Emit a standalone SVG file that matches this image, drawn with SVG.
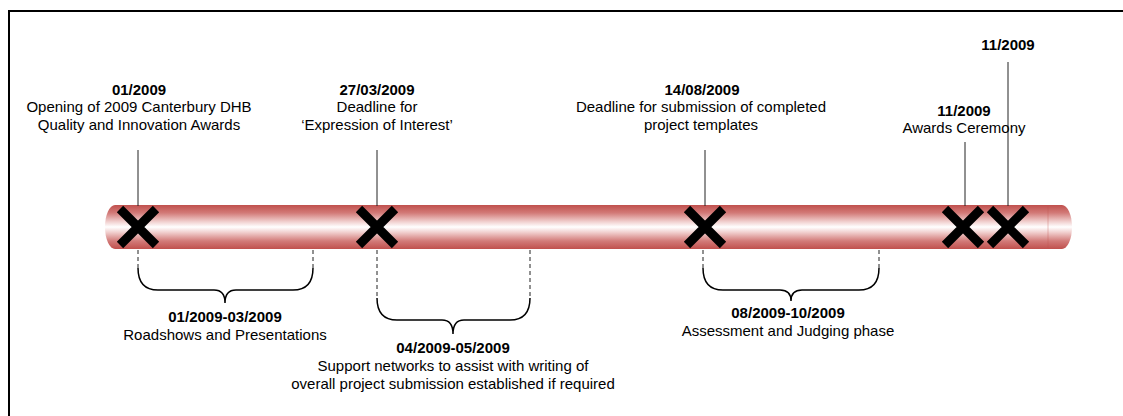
<svg xmlns="http://www.w3.org/2000/svg" width="1123" height="416" viewBox="0 0 1123 416">
  <defs>
    <linearGradient id="tubeFill" x1="0" y1="0" x2="0" y2="1">
      <stop offset="0" stop-color="#c0504d"/>
      <stop offset="0.18" stop-color="#d27a78"/>
      <stop offset="0.38" stop-color="#f1d0cf"/>
      <stop offset="0.5" stop-color="#ffffff"/>
      <stop offset="0.62" stop-color="#f1d0cf"/>
      <stop offset="0.82" stop-color="#d27a78"/>
      <stop offset="1" stop-color="#c0504d"/>
    </linearGradient>
    <style>
      text { font-family: "Liberation Sans", Arial, sans-serif; font-size: 15px; fill: #000; text-anchor: middle; }
      .date { font-weight: bold; }
      .stem { stroke: #222; stroke-width: 1; fill: none; }
      .dash { stroke: #222; stroke-width: 1; fill: none; stroke-dasharray: 4 3; }
      .brace { stroke: #000; stroke-width: 1.5; fill: none; }
      .cross { stroke: #000; stroke-width: 9; stroke-linecap: butt; }
    </style>
  </defs>

  <rect width="1123" height="416" fill="#fff"/>
  <!-- page frame (top and left edges) -->
  <path d="M9,417 V11 H1124" fill="none" stroke="#000" stroke-width="2"/>

  <!-- timeline tube -->
  <g id="timeline">
    <path d="M115,205 H1062 A10,22 0 0 1 1062,249 H115 A10,22 0 0 1 115,205 Z" fill="url(#tubeFill)"/>
    <line x1="1048" y1="206" x2="1048" y2="248" stroke="#c0504d" stroke-opacity="0.35" stroke-width="1"/>
  </g>

  <!-- connectors: stems, dashed guides and braces -->
  <g id="connectors">
    <line class="stem" x1="138" y1="150" x2="138" y2="206"/>
    <line class="stem" x1="377" y1="150" x2="377" y2="206"/>
    <line class="stem" x1="705" y1="150" x2="705" y2="206"/>
    <line class="stem" x1="965" y1="142" x2="965" y2="206"/>
    <line class="stem" x1="1008" y1="62" x2="1008" y2="206"/>

    <line class="dash" x1="138" y1="250" x2="138" y2="268"/>
    <line class="dash" x1="313" y1="250" x2="313" y2="268"/>
    <path class="brace" d="M138,268 Q138,290 158,290 H214 Q225,290 225,303 Q225,290 236,290 H293 Q313,290 313,268"/>

    <line class="dash" x1="377" y1="250" x2="377" y2="298"/>
    <line class="dash" x1="530" y1="250" x2="530" y2="298"/>
    <path class="brace" d="M377,298 Q377,320 397,320 H442 Q453,320 453,334 Q453,320 464,320 H510 Q530,320 530,298"/>

    <line class="dash" x1="703" y1="250" x2="703" y2="268"/>
    <line class="dash" x1="879" y1="250" x2="879" y2="268"/>
    <path class="brace" d="M703,268 Q703,290 723,290 H780 Q791,290 791,301 Q791,290 802,290 H859 Q879,290 879,268"/>
  </g>

  <!-- milestone markers -->
  <g id="m1">
    <path class="cross" d="M120,209 L156,245 M156,209 L120,245"/>
    <text class="date" x="139" y="95">01/2009</text>
    <text x="139" y="112">Opening of 2009 Canterbury DHB</text>
    <text x="139" y="130">Quality and Innovation Awards</text>
  </g>
  <g id="m2">
    <path class="cross" d="M359,209 L395,245 M395,209 L359,245"/>
    <text class="date" x="377" y="95">27/03/2009</text>
    <text x="377" y="112">Deadline for</text>
    <text x="377" y="130">‘Expression of Interest’</text>
  </g>
  <g id="m3">
    <path class="cross" d="M687,209 L723,245 M723,209 L687,245"/>
    <text class="date" x="702" y="95">14/08/2009</text>
    <text x="701" y="112">Deadline for submission of completed</text>
    <text x="701" y="130">project templates</text>
  </g>
  <g id="m4">
    <path class="cross" d="M945,209 L981,245 M981,209 L945,245"/>
    <text class="date" x="964" y="116">11/2009</text>
    <text x="964" y="133">Awards Ceremony</text>
  </g>
  <g id="m5">
    <path class="cross" d="M990,209 L1026,245 M1026,209 L990,245"/>
    <text class="date" x="1008" y="50">11/2009</text>
  </g>

  <!-- phase labels -->
  <g id="p1">
    <text class="date" x="225" y="322">01/2009-03/2009</text>
    <text x="225" y="340">Roadshows and Presentations</text>
  </g>
  <g id="p2">
    <text class="date" x="453" y="353">04/2009-05/2009</text>
    <text x="453" y="371">Support networks to assist with writing of</text>
    <text x="453" y="389">overall project submission established if required</text>
  </g>
  <g id="p3">
    <text class="date" x="788" y="318">08/2009-10/2009</text>
    <text x="788" y="336">Assessment and Judging phase</text>
  </g>
</svg>
